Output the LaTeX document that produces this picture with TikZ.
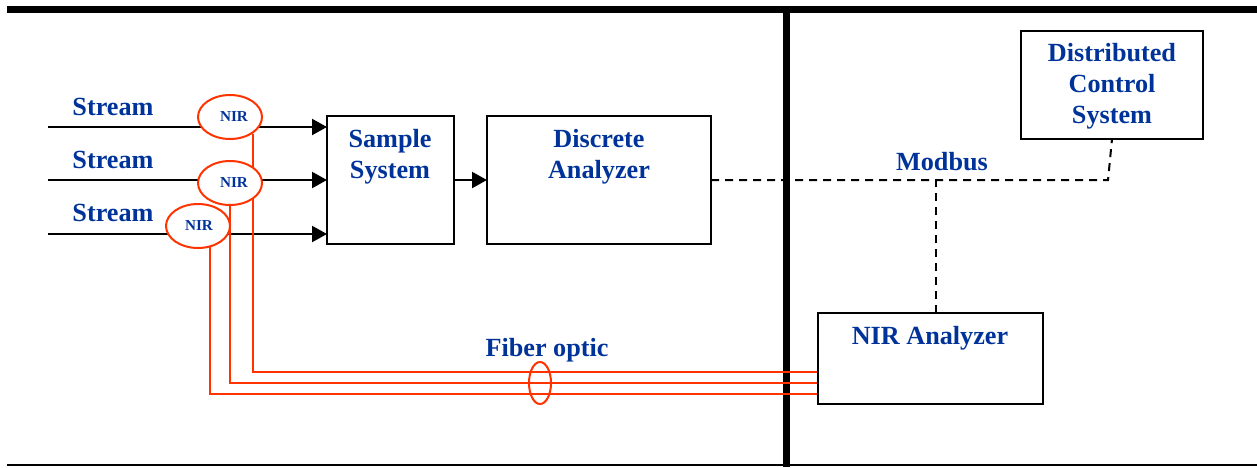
\documentclass[tikz,border=0pt]{standalone}
\usepackage{fontspec}
\setmainfont{Liberation Serif}
\usetikzlibrary{arrows.meta,shapes.geometric,backgrounds}

\definecolor{nirblue}{RGB}{0,51,153}
\definecolor{fiberred}{RGB}{255,51,0}

\tikzset{
    box/.style={draw, line width=1pt, inner sep=0pt, outer sep=0pt},
    lbl/.style={text=nirblue, font=\fontsize{13.1}{15.5}\selectfont\bfseries, align=center, inner sep=0pt},
    probe/.style={ellipse, draw=fiberred, fill=white, line width=1pt, inner sep=0pt,
        minimum width=32pt, minimum height=22pt, text=nirblue, font=\fontsize{7.6}{9}\selectfont\bfseries},
    flow/.style={line width=1.1pt, -{Triangle[length=7.5pt,width=8pt]}},
    fiber/.style={draw=fiberred, line width=1pt},
    bus/.style={line width=1pt, dash pattern=on 4pt off 3pt},
}

\begin{document}
\begin{tikzpicture}[x=0.5pt,y=-0.5pt]
    \useasboundingbox (0,0) rectangle (1257,467);

    % boxes
    \node[box, minimum width=63.5pt, minimum height=64pt] (sample) at (390.5,180) {};
    \node[lbl] at (390,157) {Sample\\System};
    \node[box, minimum width=112pt, minimum height=64pt] (discrete) at (599,180) {};
    \node[lbl] at (599,157) {Discrete\\Analyzer};
    \node[box, minimum width=91pt, minimum height=54pt] (dcs) at (1112,85) {};
    \node[lbl] at (1112,86) {Distributed\\Control\\System};
    \node[box, minimum width=112.5pt, minimum height=45.5pt] (nira) at (930.5,358.5) {};
    \node[lbl] at (930,338) {NIR Analyzer};

    % streams
    \node[lbl] (lbl1) at (113,107) {Stream};
    \node[lbl] (lbl2) at (113,160) {Stream};
    \node[lbl] (lbl3) at (113,213) {Stream};
    \coordinate (s1) at (48,127);
    \coordinate (s2) at (48,180);
    \coordinate (s3) at (48,234);

    % probes
    \node[probe] (nir1) at (230,117) {\hspace{4pt}NIR};
    \node[probe] (nir2) at (230,183) {\hspace{4pt}NIR};
    \node[probe] (nir3) at (198,226) {\hspace{1pt}NIR};

    \begin{pgfonlayer}{background}
        % frame
        \draw[line width=3.5pt] (7,9) -- (1257,9);
        \draw[line width=1pt] (7,465) -- (1257,465);
        \draw[line width=3.5pt] (786,9) -- (786,467);

        \draw[flow] (s1) -- (s1 -| sample.west);
        \draw[flow] (s2) -- (s2 -| sample.west);
        \draw[flow] (s3) -- (s3 -| sample.west);
        \draw[fiber] (nir1.-36) |- ([yshift=-6.75pt]nira.west);
        \draw[fiber] (nir2.south) |- ([yshift=-12pt]nira.west);
        \draw[fiber] (nir3.-61) |- ([yshift=-17.5pt]nira.west);
    \end{pgfonlayer}

    \draw[flow] (sample.east) -- (discrete.west);

    % fiber bundle
    \draw[fiber] (540,383) ellipse (5.5pt and 10.5pt);
    \node[lbl] (fo) at (547,350) {Fiber optic};

    % modbus
    \coordinate (mb) at (1108,180);
    \draw[bus] (discrete.east) -- (mb) -- (dcs.south);
    \draw[bus] ([xshift=2.75pt]nira.north) -- ([xshift=2.75pt]nira.north |- mb);
    \node[lbl] (modbus) at (942,162) {Modbus};
\end{tikzpicture}
\end{document}
